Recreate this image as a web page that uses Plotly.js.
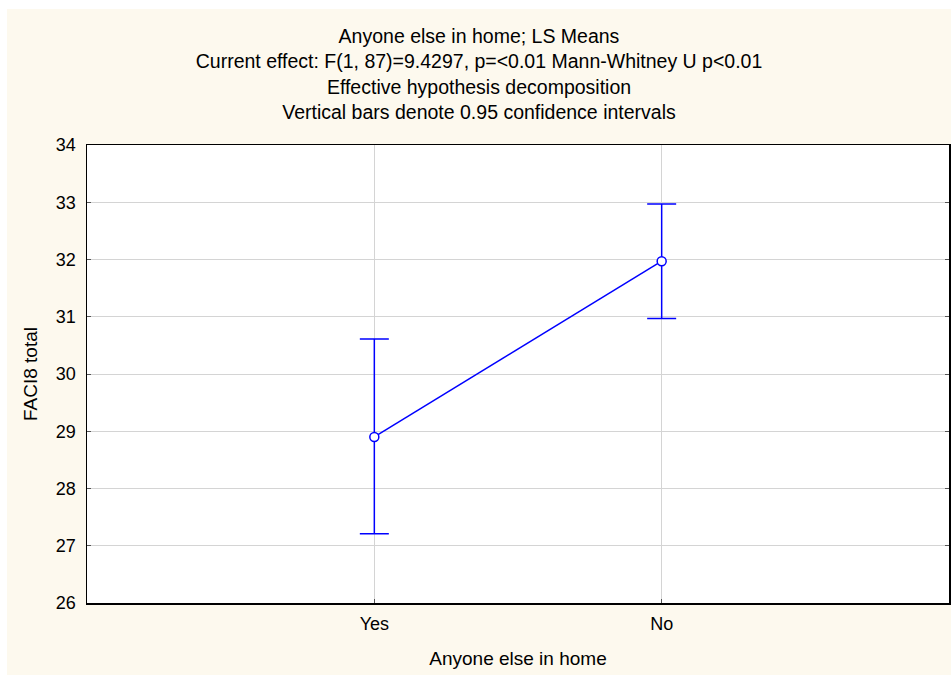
<!DOCTYPE html>
<html>
<head>
<meta charset="utf-8">
<script src="https://cdn.plot.ly/plotly-3.0.1.min.js"></script>
<style>
  html, body { margin: 0; padding: 0; background: #ffffff; width: 951px; height: 675px; overflow: hidden; }
  #chart { position: absolute; left: 7px; top: 9px; width: 944px; height: 666px; }
</style>
</head>
<body>
<div id="chart"></div>
<script>
// Data
const categories = ['Yes', 'No'];
const means = [28.90, 31.97];
const ciUpper = [30.61, 32.97];
const ciLower = [27.21, 30.97];
const yTicks = [26, 27, 28, 29, 30, 31, 32, 33, 34];

const titleLines = [
  'Anyone else in home; LS Means',
  'Current effect: F(1, 87)=9.4297, p=<0.01 Mann-Whitney U p<0.01',
  'Effective hypothesis decomposition',
  'Vertical bars denote 0.95 confidence intervals'
];

const errPlus = means.map((m, i) => ciUpper[i] - m);
const errMinus = means.map((m, i) => m - ciLower[i]);

const FONT = 'Arial, "Liberation Sans", sans-serif';
const BLUE = '#0000FF';

const trace = {
  type: 'scatter',
  mode: 'lines+markers',
  x: categories,
  y: means,
  line: { color: BLUE, width: 1.5 },
  marker: { symbol: 'circle', size: 9, color: '#ffffff', line: { color: BLUE, width: 1.5 } },
  error_y: {
    type: 'data',
    symmetric: false,
    array: errPlus,
    arrayminus: errMinus,
    color: BLUE,
    thickness: 1.5,
    width: 14.5
  },
  showlegend: false,
  hoverinfo: 'x+y'
};

const layout = {
  width: 944,
  height: 666,
  paper_bgcolor: '#FDF9EE',
  plot_bgcolor: '#FFFFFF',
  font: { family: FONT, color: '#000000', size: 18 },
  margin: { l: 80.3, r: 2, t: 136, b: 72, pad: 0 },
  title: {
    text: titleLines.join('<br>'),
    font: { family: FONT, size: 19.5, color: '#000000' },
    x: 0.5,
    xref: 'container',
    xanchor: 'center',
    y: 1 - 34 / 666,
    yref: 'container',
    yanchor: 'top'
  },
  xaxis: {
    type: 'category',
    categoryorder: 'array',
    categoryarray: categories,
    range: [-1, 2],
    showgrid: true,
    gridcolor: '#D4D4D4',
    gridwidth: 1,
    showline: true,
    linecolor: '#000000',
    linewidth: 1.5,
    mirror: true,
    ticks: 'inside',
    ticklen: 4,
    tickcolor: '#555555',
    ticklabelstandoff: 4,
    tickfont: { family: FONT, size: 18, color: '#000000' },
    zeroline: false,
    title: { text: 'Anyone else in home', font: { family: FONT, size: 19, color: '#000000' }, standoff: 18 }
  },
  yaxis: {
    range: [26, 34],
    tickmode: 'array',
    tickvals: yTicks,
    ticktext: yTicks.map(String),
    showgrid: true,
    gridcolor: '#D4D4D4',
    gridwidth: 1,
    showline: true,
    linecolor: '#000000',
    linewidth: 1.5,
    mirror: 'ticks',
    ticks: 'inside',
    ticklen: 4,
    tickcolor: '#555555',
    ticklabelstandoff: 6,
    tickfont: { family: FONT, size: 18, color: '#000000' },
    zeroline: false,
    title: { text: 'FACI8 total', font: { family: FONT, size: 19, color: '#000000' }, standoff: 13 }
  }
};

Plotly.newPlot('chart', [trace], layout, { staticPlot: true, displayModeBar: false });
</script>
</body>
</html>
